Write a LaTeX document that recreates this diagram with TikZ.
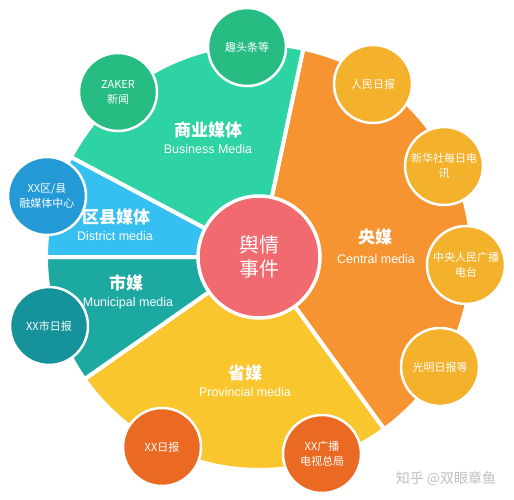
\documentclass[tikz,border=0pt]{standalone}
\usepackage{fontspec}
\setmainfont{Liberation Sans}
\newfontfamily\cjk{Noto Sans CJK SC}

\definecolor{centralbg}{HTML}{F79432}
\definecolor{centralleaf}{HTML}{F4B12C}
\definecolor{businessbg}{HTML}{2DD3A2}
\definecolor{businessleaf}{HTML}{27BD82}
\definecolor{districtbg}{HTML}{36C0F2}
\definecolor{districtleaf}{HTML}{2399D6}
\definecolor{municipalbg}{HTML}{1BA9A1}
\definecolor{municipalleaf}{HTML}{16939A}
\definecolor{provincialbg}{HTML}{F9C62D}
\definecolor{provincialleaf}{HTML}{EB6A23}
\definecolor{hubred}{HTML}{F06A6F}

\begin{document}
\begin{tikzpicture}[x=1pt,y=-1pt,
    sector/.style={draw=white,line width=4pt,line join=miter},
    leaf/.style={circle,draw=white,line width=2.5pt,minimum size=78pt,
      inner sep=1pt,align=center,text=white,
      font=\cjk\fontsize{11}{15}\selectfont},
    title/.style={text=white,font=\cjk\bfseries\fontsize{17}{19}\selectfont},
    subtitle/.style={text=white,font=\fontsize{12.5}{14}\selectfont}]

  \useasboundingbox (0,0) rectangle (514,500);
  \coordinate (o) at (259,257);

  % sectors
  \path[sector,fill=centralbg]    (o) -- ++(-78:213) arc (-78:54:213)   -- cycle;
  \path[sector,fill=provincialbg] (o) -- ++(54:213)  arc (54:145:213)   -- cycle;
  \path[sector,fill=municipalbg]  (o) -- ++(145:213) arc (145:180:213)  -- cycle;
  \path[sector,fill=districtbg]   (o) -- ++(180:213) arc (180:208:213)  -- cycle;
  \path[sector,fill=businessbg]   (o) -- ++(208:213) arc (208:282:213)  -- cycle;

  % sector labels
  \node[title]    (business)   at (208,130) {商业媒体};
  \node[subtitle] (businessen) at (208,149) {Business Media};
  \node[title]    (district)   at (116,217) {区县媒体};
  \node[subtitle] (districten) at (115,236) {District media};
  \node[title]    (municipal)  at (126,283) {市媒};
  \node[subtitle] (municipalen) at (128,303) {Municipal media};
  \node[title]    (provincial) at (245,373) {省媒};
  \node[subtitle] (provincialen) at (245,392) {Provincial media};
  \node[title]    (central)    at (375,237) {央媒};
  \node[subtitle] (centralen)  at (376,259) {Central media};

  \node[circle,draw=white,line width=3.5pt,fill=hubred,minimum size=122pt,
    align=center,text=white,font=\cjk\fontsize{20}{24}\selectfont]
    (hub) at (o) {舆情\\事件};

  % leaves
  \begin{scope}[every node/.style={leaf}]
    \node[fill=businessleaf]   (zaker)  at (118,92)  {ZAKER\\新闻};
    \node[fill=businessleaf]   (qutou)  at (247,47)  {趣头条等};
    \node[fill=centralleaf]    (renmin) at (373,84)  {人民日报};
    \node[fill=centralleaf]    (xinhua) at (444,166) {新华社每日电\\讯};
    \node[fill=centralleaf]    (radio)  at (466,265) {中央人民广播\\电台};
    \node[fill=centralleaf]    (guangming) at (440,367) {光明日报等};
    \node[fill=provincialleaf] (xxtv)   at (322,454) {XX广播\\电视总局};
    \node[fill=provincialleaf] (xxdaily) at (162,447) {XX日报};
    \node[fill=municipalleaf]  (xxcity) at (49,326)  {XX市日报};
    \node[fill=districtleaf]   (xxcounty) at (47,196) {XX区/县\\融媒体中心};
  \end{scope}

  \node[text=black!25,font=\cjk\fontsize{14}{16}\selectfont]
    (mark) at (446,479) {知乎 @双眼章鱼};

\end{tikzpicture}
\end{document}
